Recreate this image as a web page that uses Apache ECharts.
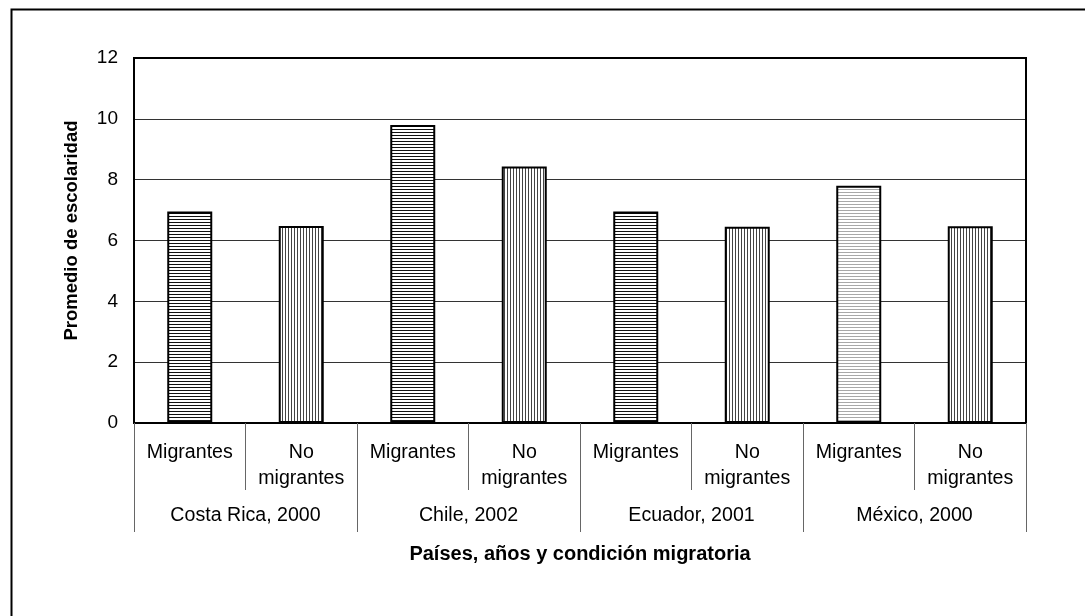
<!DOCTYPE html>
<html>
<head>
<meta charset="utf-8">
<script src="https://cdn.jsdelivr.net/npm/echarts@6/dist/echarts.min.js"></script>
<style>
html,body{margin:0;padding:0;background:#fff;}
#chart{width:1085px;height:616px;}
</style>
</head>
<body>
<div id="chart"></div>
<script>
// ---- data ----
const subCategories = ['Migrantes','No\nmigrantes','Migrantes','No\nmigrantes','Migrantes','No\nmigrantes','Migrantes','No\nmigrantes'];
const groups = ['Costa Rica, 2000','Chile, 2002','Ecuador, 2001','México, 2000'];
const values = [6.95, 6.48, 9.8, 8.43, 6.95, 6.45, 7.8, 6.47];
const yTicks = [0, 2, 4, 6, 8, 10, 12];
const yTitle = 'Promedio de escolaridad';
const xTitle = 'Países, años y condición migratoria';

// ---- patterns ----
function makePattern(dir, color) {
  const c = document.createElement('canvas');
  c.width = 3; c.height = 3;
  const ctx = c.getContext('2d');
  ctx.fillStyle = '#fff';
  ctx.fillRect(0, 0, 3, 3);
  ctx.fillStyle = color;
  if (dir === 'h') ctx.fillRect(0, 0, 3, 1);
  else ctx.fillRect(0, 0, 1, 3);
  return { image: c, repeat: 'repeat' };
}
const hDark = makePattern('h', '#111');
const hLight = makePattern('h', '#a8a8a8');
const vDark = makePattern('v', '#444');

const barData = values.map((v, i) => {
  const g = Math.floor(i / 2);
  const isMig = subCategories[i] === 'Migrantes';
  const fill = isMig ? (groups[g].startsWith('México') ? hLight : hDark) : vDark;
  return { value: v, itemStyle: { color: fill, borderColor: '#000', borderWidth: 2 } };
});

const font = 'Liberation Sans, Arial, sans-serif';
const chart = echarts.init(document.getElementById('chart'), null, { renderer: 'canvas' });
chart.setOption({
  animation: false,
  backgroundColor: '#fff',
  graphic: [{
    type: 'rect', left: 9, top: 7,
    shape: { width: 1200, height: 800 },
    style: { fill: 'none', stroke: '#000', lineWidth: 2 },
    z: -10
  }],
  grid: {
    left: 134, top: 58, right: 59, bottom: 193,
    show: true, borderColor: '#000', borderWidth: 2, backgroundColor: 'transparent', z: 3
  },
  xAxis: [{
    type: 'category',
    data: subCategories,
    boundaryGap: true,
    axisLine: { show: true, lineStyle: { color: '#000', width: 2 } },
    axisTick: { show: true, interval: 0, length: 67, lineStyle: { color: '#666', width: 1 } },
    axisLabel: { interval: 0, margin: 17, fontFamily: font, fontSize: 19.6, color: '#000', lineHeight: 26 },
    z: 5
  }, {
    type: 'category',
    data: groups,
    position: 'bottom',
    boundaryGap: true,
    axisLine: { show: false },
    axisTick: { show: true, interval: 0, length: 109, lineStyle: { color: '#666', width: 1 } },
    axisLabel: { interval: 0, margin: 80, fontFamily: font, fontSize: 19.6, color: '#000', lineHeight: 26 },
    name: xTitle,
    nameLocation: 'middle',
    nameGap: 121,
    nameTextStyle: { fontFamily: font, fontSize: 20, fontWeight: 'bold', color: '#000', lineHeight: 20 }
  }],
  yAxis: {
    type: 'value',
    min: yTicks[0], max: yTicks[yTicks.length - 1], interval: 2,
    axisLine: { show: true, lineStyle: { color: '#000', width: 2 } },
    axisTick: { show: false },
    axisLabel: { margin: 16, fontFamily: font, fontSize: 19, color: '#000' },
    splitLine: { show: true, lineStyle: { color: '#333', width: 1 } },
    name: yTitle,
    nameLocation: 'middle',
    nameGap: 52,
    nameTextStyle: { fontFamily: font, fontSize: 18.5, fontWeight: 'bold', color: '#000', lineHeight: 20, padding: [0, 0, 0, 20] }
  },
  series: [{
    type: 'bar',
    xAxisIndex: 0,
    data: barData,
    barWidth: 45,
    z: 4
  }]
});
</script>
</body>
</html>
